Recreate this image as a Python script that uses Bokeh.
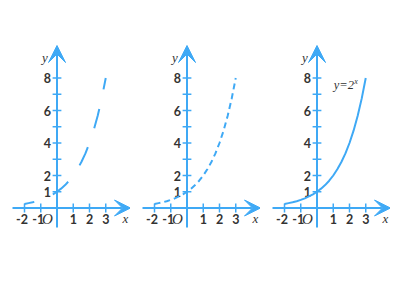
from bokeh.plotting import figure
from bokeh.layouts import row
from bokeh.models import Range1d, Arrow, VeeHead, ColumnDataSource
from bokeh.core.properties import value
from bokeh.embed import file_html
from bokeh.resources import INLINE

# ---- data (y = 2^x) ----
curve_x = [-2.0, -1.75, -1.5, -1.25, -1.0, -0.75, -0.5, -0.25, 0.0, 0.25, 0.5,
           0.75, 1.0, 1.25, 1.5, 1.75, 2.0, 2.25, 2.5, 2.75, 3.0]
curve_y = [0.25, 0.30, 0.35, 0.42, 0.50, 0.59, 0.71, 0.84, 1.00, 1.19, 1.41,
           1.68, 2.00, 2.38, 2.83, 3.36, 4.00, 4.76, 5.66, 6.73, 8.00]
x_ticks = [-2, -1, 1, 2, 3]
x_tick_labels = ["-2", "-1", "1", "2", "3"]
y_ticks = [1, 2, 3, 4, 5, 6, 7, 8]
y_labeled = [1, 2, 4, 6, 8]
y_tick_labels = ["1", "2", "4", "6", "8"]
dash_styles = ["20 20", "6 4", "solid"]
dash_offsets = [10, 0, 0]
formula_label = "y=2"
formula_sup = "x"

# ---- layout / style ----
BLUE = "#3fa9f5"
TEXT = "#333333"
PX = 16.25          # pixels per unit
W, H = 130, 300
AX_X, AX_Y = 56.5, 207.5   # axis crossing position in pixels (from left / top)
x0 = -AX_X / PX
x1 = (W - AX_X) / PX
y0 = -(H - AX_Y) / PX
y1 = AX_Y / PX
XA_START, XA_END = (12 - AX_X) / PX, (130 - AX_X) / PX
YA_START, YA_END = (AX_Y - 227) / PX, (AX_Y - 45) / PX
TL = 0.27  # half tick length in units


def panel(i):
    p = figure(width=W, height=H, output_backend="svg", toolbar_location=None,
               x_range=Range1d(x0, x1), y_range=Range1d(y0, y1),
               x_axis_location=None, y_axis_location=None, min_border=0,
               outline_line_color=None, background_fill_color="white",
               border_fill_color="white")
    p.grid.visible = False

    # axes with arrowheads
    p.add_layout(Arrow(end=VeeHead(size=16, fill_color=BLUE, line_color=BLUE, line_width=1),
                       x_start=XA_START, y_start=0, x_end=XA_END, y_end=0,
                       line_color=BLUE, line_width=2))
    p.add_layout(Arrow(end=VeeHead(size=17, fill_color=BLUE, line_color=BLUE, line_width=1),
                       x_start=0, y_start=YA_START, x_end=0, y_end=YA_END,
                       line_color=BLUE, line_width=2))

    # ticks
    p.segment(x0=x_ticks, y0=[-TL] * len(x_ticks), x1=x_ticks, y1=[TL] * len(x_ticks),
              line_color=BLUE, line_width=1.5)
    p.segment(x0=[-TL] * len(y_ticks), y0=y_ticks, x1=[TL] * len(y_ticks), y1=y_ticks,
              line_color=BLUE, line_width=1.5)

    # tick labels
    xs_src = ColumnDataSource(dict(x=x_ticks, y=[0] * len(x_ticks), t=x_tick_labels,
                                   off=[-2.5 if v < 0 else 0 for v in x_ticks]))
    p.text(x="x", y="y", text="t", x_offset="off", y_offset=11, source=xs_src,
           text_align="center", text_baseline="middle", text_color=TEXT,
           text_font=value("Lato"), text_font_style="bold", text_font_size="12.5px")
    p.text(x=[0] * len(y_labeled), y=y_labeled, text=y_tick_labels, x_offset=-6,
           text_align="right", text_baseline="middle", text_color=TEXT,
           text_font=value("Lato"), text_font_style="bold", text_font_size="12.5px")

    # axis names and origin
    p.text(x=[0], y=[0], text=["O"], x_offset=-9.5, y_offset=11, text_align="center",
           text_baseline="middle", text_color=TEXT, text_font=value("Liberation Serif"),
           text_font_style="italic", text_font_size="15px")
    p.text(x=[XA_END], y=[0], text=["x"], x_offset=-5, y_offset=10, text_align="center",
           text_baseline="middle", text_color=TEXT, text_font=value("Liberation Serif"),
           text_font_style="italic", text_font_size="13px")
    p.text(x=[0], y=[YA_END], text=["y"], x_offset=-12, y_offset=12, text_align="center",
           text_baseline="middle", text_color=TEXT, text_font=value("Liberation Serif"),
           text_font_style="italic", text_font_size="13px")

    # curve
    p.line(curve_x, curve_y, line_color=BLUE, line_width=2,
           line_dash=dash_styles[i], line_dash_offset=dash_offsets[i])
    return p


panels = [panel(i) for i in range(3)]

# formula label on the third panel
p3 = panels[2]
p3.text(x=[1.03], y=[7.54], text=[formula_label], text_align="left", text_baseline="middle",
        text_color=TEXT, text_font=value("Liberation Serif"), text_font_style="italic",
        text_font_size="12.5px")
p3.text(x=[1.03], y=[7.54], text=[formula_sup], x_offset=20.5, y_offset=-4, text_align="left",
        text_baseline="middle", text_color=TEXT, text_font=value("Liberation Serif"),
        text_font_style="italic", text_font_size="8px")

layout = row(*panels, spacing=0)
open("out.html", "w").write(file_html(layout, INLINE))
